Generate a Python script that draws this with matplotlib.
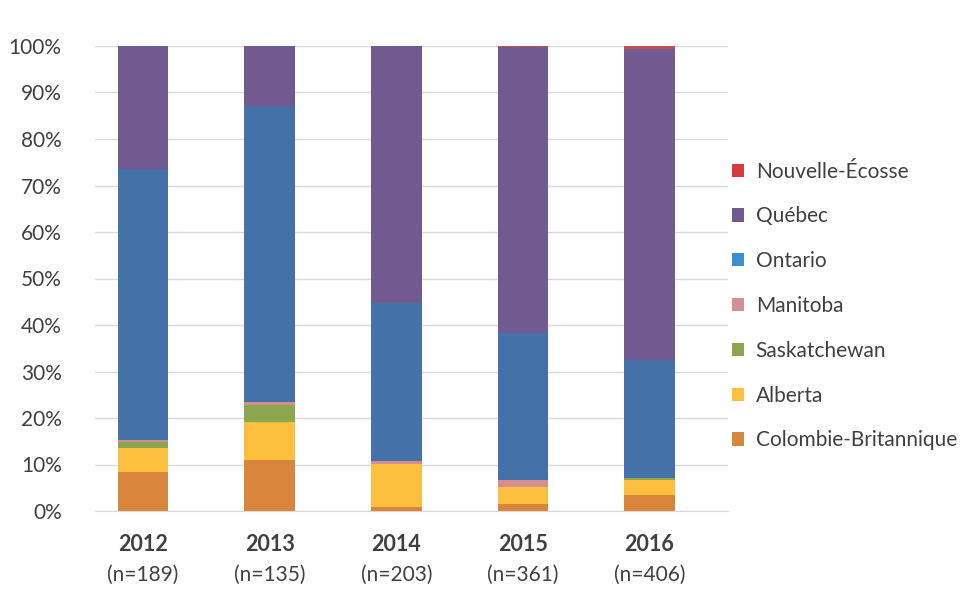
import matplotlib
matplotlib.use("Agg")
import matplotlib.pyplot as plt
from matplotlib.patches import Patch
import numpy as np

years = ["2012", "2013", "2014", "2015", "2016"]
n_labels = ["(n=189)", "(n=135)", "(n=203)", "(n=361)", "(n=406)"]

colombie = [8.3, 11.0, 0.9, 1.6, 3.5]
alberta = [5.3, 8.1, 9.3, 3.6, 3.2]
saskatchewan = [1.2, 3.7, 0.0, 0.0, 0.5]
manitoba = [0.5, 0.7, 0.55, 1.5, 0.0]
ontario = [58.2, 63.7, 33.95, 31.6, 25.3]
quebec = [26.5, 12.8, 55.3, 61.4, 66.8]
nouvelle_ecosse = [0.0, 0.0, 0.0, 0.3, 0.7]

series = [
    ("Colombie-Britannique", colombie, "#D9853B", "#D9853B"),
    ("Alberta", alberta, "#FCBF3E", "#FCBF3E"),
    ("Saskatchewan", saskatchewan, "#8BA64E", "#8BA64E"),
    ("Manitoba", manitoba, "#D49090", "#D49090"),
    ("Ontario", ontario, "#4472A8", "#3E8ED6"),
    ("Québec", quebec, "#715A90", "#715A90"),
    ("Nouvelle-Écosse", nouvelle_ecosse, "#C0504D", "#D63C3C"),
]

plt.rcParams["font.family"] = ["Lato", "DejaVu Sans"]

fig = plt.figure(figsize=(9.8, 6.05), dpi=100)
ax = fig.add_axes([95 / 980, 1 - 511 / 605, (728 - 95) / 980, (511 - 46) / 605])

x = np.arange(len(years))
bottom = np.zeros(len(years))
handles = []
for name, vals, col, lcol in series:
    v = np.array(vals, dtype=float)
    ax.bar(x, v, bottom=bottom, width=0.4, color=col, zorder=3)
    bottom += v
    handles.append(Patch(facecolor=lcol, edgecolor="none", label=name))

ax.set_ylim(0, 100)
ax.set_xlim(-0.38, 4.62)
ax.set_yticks(np.arange(0, 101, 10))
ax.set_yticklabels([f"{t}%" for t in range(0, 101, 10)], fontsize=15, color="#404040")
ax.yaxis.grid(True, color="#D9D9D9", linewidth=1, zorder=0)
ax.set_xticks([])
ax.tick_params(axis="y", length=0, pad=24)
for s in ["top", "right", "left"]:
    ax.spines[s].set_visible(False)
ax.spines["bottom"].set_color("#D9D9D9")

for i, (yr, nl) in enumerate(zip(years, n_labels)):
    ax.text(i, -7.3, yr, ha="center", va="center", fontsize=15.5, fontweight="bold",
            color="#404040", clip_on=False)
    ax.text(i, -13.8, nl, ha="center", va="center", fontsize=15,
            color="#404040", clip_on=False)

leg = fig.legend(handles=handles[::-1], loc="center left", bbox_to_anchor=(713 / 980, 1 - 306 / 605),
                 frameon=False, fontsize=15, handlelength=0.6, handleheight=0.6,
                 labelspacing=1.19, handletextpad=0.55, labelcolor="#404040")

fig.savefig("out.png", dpi=100)
